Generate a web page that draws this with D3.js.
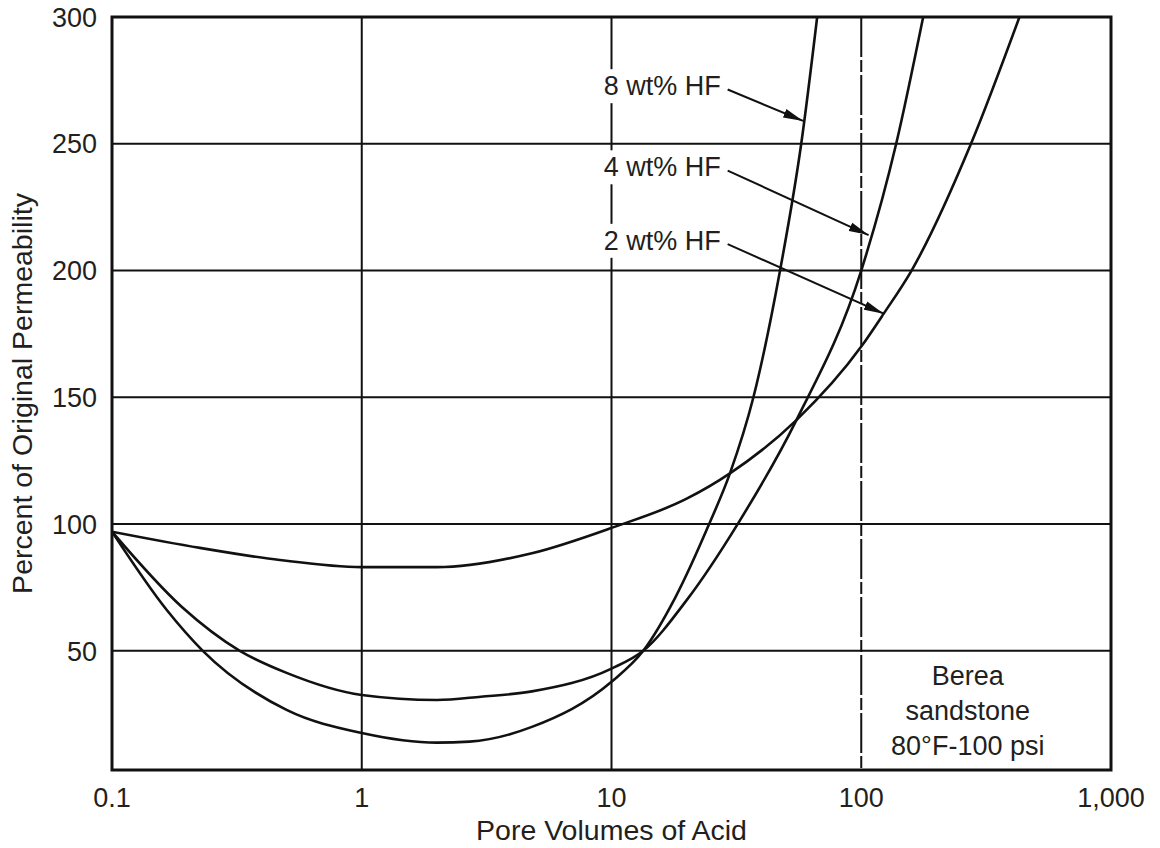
<!DOCTYPE html>
<meta charset="utf-8">
<title>Percent of Original Permeability vs Pore Volumes of Acid</title>
<style>

body {
  margin: 0;
  background: #fff;
}

text {
  font-family: "Liberation Sans", Arial, sans-serif;
  fill: #231f20;
}

.grid {
  stroke: #111;
  stroke-width: 2px;
}

.frame {
  fill: none;
  stroke: #111;
  stroke-width: 3px;
}

.curve {
  fill: none;
  stroke: #111;
  stroke-width: 2.6px;
}

.arrow {
  stroke: #111;
  stroke-width: 2px;
}

</style>
<body>
<script src="https://d3js.org/d3.v7.min.js"></script>
<script>

// pore volumes of acid (x) and percent of original permeability (y)
var pv8 = [0.1, 0.166, 0.231, 0.5, 1, 2, 2.7, 4.8, 10, 13.4, 18, 24.6, 29.8, 37, 47.3, 57.5, 66.6];
var perm8 = [97, 66, 50, 26.7, 17.6, 13.8, 14.2, 20, 37.8, 50, 71, 100, 120, 150, 200, 250, 300];

var pv4 = [0.1, 0.19, 0.325, 0.5, 1, 2, 3, 4.8, 10, 13.4, 20, 32, 55, 100, 138, 177];
var perm4 = [97, 67.4, 50, 41.3, 32.6, 30.6, 31.9, 34, 43, 50, 70, 100, 141, 200, 250, 300];

var pv2 = [0.1, 0.225, 0.47, 1, 2, 4.8, 10, 20, 29.8, 55, 100, 123, 159, 275, 430];
var perm2 = [97, 90.6, 85.8, 83, 83, 88.5, 98.5, 110, 120, 141, 170, 183, 200, 250, 300];

var seriesNames = ["8 wt% HF", "4 wt% HF", "2 wt% HF"];
// where each label arrow touches its curve
var arrowPv = [58.5, 107, 123];
var arrowPerm = [259, 214, 183];
// label centre heights, in permeability units
var labelPerm = [273, 241, 212];
var labelPv = 9.3;

var xTicks = [0.1, 1, 10, 100, 1000];
var xTickLabels = ["0.1", "1", "10", "100", "1,000"];
var yTicks = [50, 100, 150, 200, 250, 300];

var noteLines = ["Berea", "sandstone", "80\u00b0F-100 psi"];
var notePv = 267;

var width = 1160,
    height = 848;

var mLeft = 112, mRight = 1111, mTop = 17, mBottom = 770;

var svg = d3.select("body").append("svg")
    .attr("width", width)
    .attr("height", height);

var x = d3.scaleLog().domain([0.1, 1000]).range([mLeft, mRight]);
var y = d3.scaleLinear().domain([3, 300]).range([mBottom, mTop]);

var defs = svg.append("defs");
defs.append("marker")
    .attr("id", "head")
    .attr("viewBox", "0 0 20 10")
    .attr("refX", 20)
    .attr("refY", 5)
    .attr("markerWidth", 20)
    .attr("markerHeight", 10)
    .attr("markerUnits", "userSpaceOnUse")
    .attr("orient", "auto")
  .append("path")
    .attr("d", "M0,0.5 L20,5 L0,9.5 Z")
    .attr("fill", "#111");

// grid
svg.selectAll(".vgrid")
    .data(xTicks.slice(1, -1))
  .enter().append("line")
    .attr("class", "grid")
    .attr("x1", function(d) { return x(d); })
    .attr("x2", function(d) { return x(d); })
    .attr("y1", mTop)
    .attr("y2", mBottom)
    .style("stroke-dasharray", function(d) { return d == 100 ? "40,3,12,3" : null; });

svg.selectAll(".hgrid")
    .data(yTicks.slice(0, -1))
  .enter().append("line")
    .attr("class", "grid")
    .attr("x1", mLeft)
    .attr("x2", mRight)
    .attr("y1", function(d) { return y(d); })
    .attr("y2", function(d) { return y(d); });

// curves
var line = d3.line()
    .x(function(d) { return x(d[0]); })
    .y(function(d) { return y(d[1]); })
    .curve(d3.curveMonotoneX);

var series = [d3.zip(pv8, perm8), d3.zip(pv4, perm4), d3.zip(pv2, perm2)];

svg.append("clipPath").attr("id", "plot")
  .append("rect")
    .attr("x", mLeft).attr("y", mTop)
    .attr("width", mRight - mLeft).attr("height", mBottom - mTop);

svg.selectAll(".curve")
    .data(series)
  .enter().append("path")
    .attr("class", "curve")
    .attr("clip-path", "url(#plot)")
    .attr("d", line);

svg.append("rect")
    .attr("class", "frame")
    .attr("x", mLeft)
    .attr("y", mTop)
    .attr("width", mRight - mLeft)
    .attr("height", mBottom - mTop);

// series labels with arrows
var labels = svg.selectAll(".label")
    .data(seriesNames)
  .enter().append("g")
    .attr("class", "label");

labels.each(function(name, i) {
  var g = d3.select(this);
  var cy = y(labelPerm[i]);
  var bg = g.append("rect").attr("fill", "#fff");
  var t = g.append("text")
      .attr("x", x(labelPv))
      .attr("y", cy)
      .attr("dy", "0.36em")
      .style("font-size", "27px")
      .text(name);
  var b = t.node().getBBox();
  bg.attr("x", b.x - 3).attr("y", b.y - 2)
    .attr("width", b.width + 6).attr("height", b.height + 4);
  g.append("line")
      .attr("class", "arrow")
      .attr("x1", b.x + b.width + 7)
      .attr("y1", cy + 4)
      .attr("x2", x(arrowPv[i]))
      .attr("y2", y(arrowPerm[i]))
      .attr("marker-end", "url(#head)");
});

// note
svg.selectAll(".note")
    .data(noteLines)
  .enter().append("text")
    .attr("x", x(notePv))
    .attr("y", function(d, i) { return mBottom - 85 + i * 35; })
    .attr("text-anchor", "middle")
    .style("font-size", "27px")
    .text(function(d) { return d; });

// tick labels
svg.selectAll(".xlab")
    .data(xTicks)
  .enter().append("text")
    .attr("x", function(d) { return x(d); })
    .attr("y", 807)
    .attr("text-anchor", "middle")
    .style("font-size", "27px")
    .text(function(d, i) { return xTickLabels[i]; });

svg.selectAll(".ylab")
    .data(yTicks)
  .enter().append("text")
    .attr("x", 97)
    .attr("y", function(d) { return y(d); })
    .attr("dy", "0.36em")
    .attr("text-anchor", "end")
    .style("font-size", "27px")
    .text(function(d) { return d; });

svg.append("text")
    .attr("x", (mLeft + mRight) / 2)
    .attr("y", 840)
    .attr("text-anchor", "middle")
    .style("font-size", "28.5px")
    .text("Pore Volumes of Acid");

svg.append("text")
    .attr("transform", "translate(32," + ((mTop + mBottom) / 2) + ") rotate(-90)")
    .attr("text-anchor", "middle")
    .style("font-size", "28.5px")
    .text("Percent of Original Permeability");

</script>
</body>
